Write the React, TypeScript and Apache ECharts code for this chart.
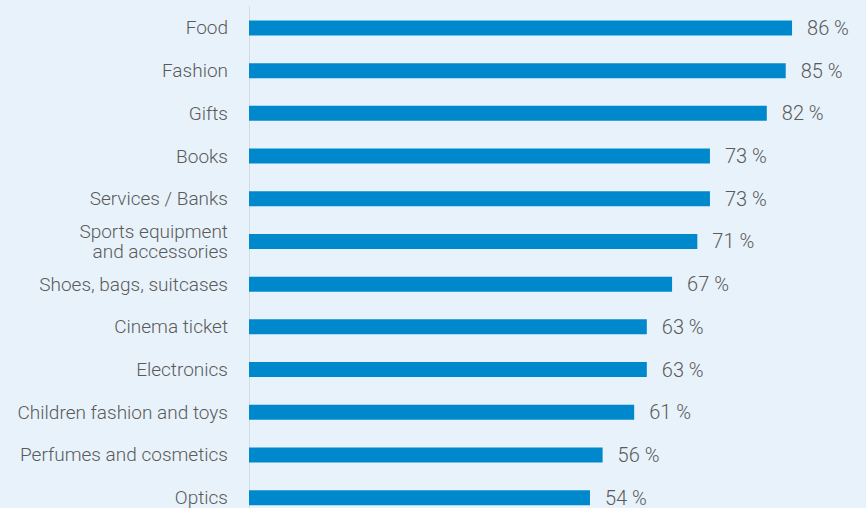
import React, { useEffect, useRef } from "react";
import * as echarts from "echarts";

const categories = [
  "Food",
  "Fashion",
  "Gifts",
  "Books",
  "Services / Banks",
  "Sports equipment\nand accessories",
  "Shoes, bags, suitcases",
  "Cinema ticket",
  "Electronics",
  "Children fashion and toys",
  "Perfumes and cosmetics",
  "Optics",
];
const values = [86, 85, 82, 73, 73, 71, 67, 63, 63, 61, 56, 54];

export default function App() {
  const ref = useRef<HTMLDivElement>(null);
  useEffect(() => {
    if (!ref.current) return;
    const chart = echarts.init(ref.current, null, { renderer: "svg" });
    chart.setOption({
      animation: false,
      backgroundColor: "#e8f2fb",
      grid: { left: 249, top: 6.6, width: 568.3, height: 512.4 },
      xAxis: {
        type: "value",
        min: 0,
        max: 90,
        show: false,
      },
      yAxis: {
        type: "category",
        data: categories,
        inverse: true,
        axisLine: { show: true, lineStyle: { color: "#d3dbe3", width: 1 } },
        axisTick: { show: false },
        splitLine: { show: false },
        axisLabel: {
          margin: 21,
          fontFamily: "Roboto",
          fontWeight: 300,
          fontSize: 19,
          color: "#5a5a5a",
          lineHeight: 20,
          align: "right",
        },
      },
      series: [
        {
          type: "bar",
          data: values,
          barWidth: 15,
          itemStyle: { color: "#0088cc" },
          label: {
            show: true,
            position: "right",
            distance: 15,
            formatter: (p: any) => p.value + " %",
            fontFamily: "Roboto",
            fontWeight: 300,
            fontSize: 20,
            color: "#5a5a5a",
          },
        },
      ],
    });
    return () => chart.dispose();
  }, []);
  return (
    <div
      ref={ref}
      style={{ position: "fixed", left: 0, top: 0, width: 866, height: 530 }}
    />
  );
}
